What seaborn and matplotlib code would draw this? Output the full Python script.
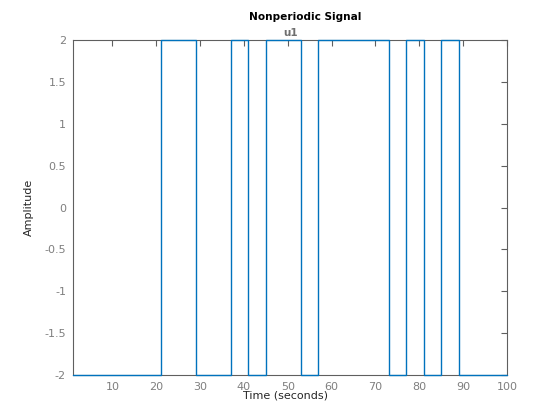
import numpy as np
import pandas as pd
import seaborn as sns
import matplotlib
matplotlib.use('Agg')
import matplotlib.pyplot as plt

# switching instants (seconds) and signal level held after each one
switch_times = [1, 21, 29, 37, 41, 45, 53, 57, 73, 77, 81, 85, 89, 100]
levels = [-2, 2, -2, 2, -2, 2, -2, 2, -2, 2, -2, 2, -2, -2]
x_ticks = [10, 20, 30, 40, 50, 60, 70, 80, 90, 100]
y_ticks = [-2, -1.5, -1, -0.5, 0, 0.5, 1, 1.5, 2]
y_tick_labels = ['-2', '-1.5', '-1', '-0.5', '0', '0.5', '1', '1.5', '2']

df = pd.DataFrame({'Time': switch_times, 'u1': levels})

sns.set_style('white')
plt.rcParams['font.family'] = ['DejaVu Sans']

fig = plt.figure(figsize=(5.6, 4.2), dpi=100)
ax = fig.add_axes([73 / 560, 1 - 375 / 420, (507 - 73) / 560, (375 - 40) / 420])

sns.lineplot(data=df, x='Time', y='u1', drawstyle='steps-post', color='#0072BD',
             linewidth=1.0, ax=ax, clip_on=False, zorder=5)

ax.set_xlim(1, 100)
ax.set_ylim(-2, 2)
ax.set_xticks(x_ticks)
ax.set_yticks(y_ticks)
ax.set_yticklabels(y_tick_labels)

grey = '#5f5f5f'
for s in ax.spines.values():
    s.set_color(grey)
    s.set_linewidth(0.8)
    s.set_zorder(1)
ax.tick_params(direction='in', length=4, width=0.8, colors=grey, labelcolor='#7f7f7f',
               labelsize=8, top=True, right=True, pad=5)

ax.set_xlabel('Time (seconds)', fontsize=8)
ax.xaxis.set_label_coords(0.49, -0.046, transform=ax.transAxes)
ax.xaxis.label.set_va('top')
ax.set_ylabel('Amplitude', fontsize=8)
ax.yaxis.set_label_coords(-0.09, 0.5, transform=ax.transAxes)

fig.text(0.545, 1 - 16.5 / 420, 'Nonperiodic Signal', ha='center', va='center',
         fontsize=7.6, fontweight='bold', color='black')
fig.text(0.518, 1 - 33 / 420, 'u1', ha='center', va='center',
         fontsize=7.5, fontweight='bold', color='#6f6f6f')

fig.savefig('out.png', dpi=100)
